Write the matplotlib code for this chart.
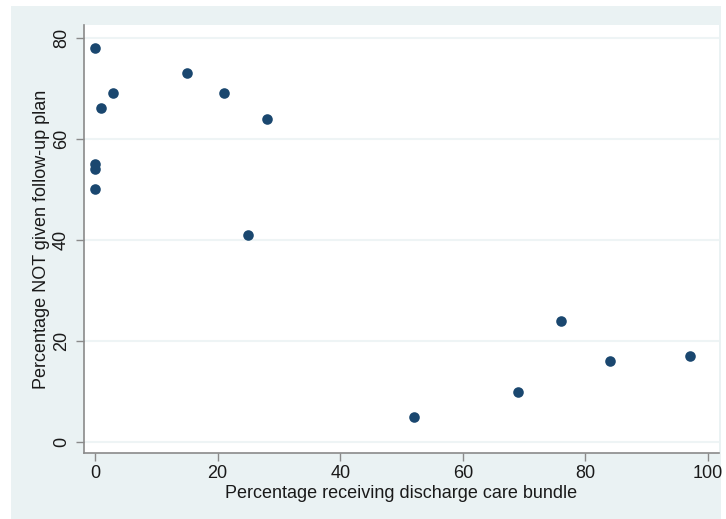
import matplotlib
matplotlib.use("Agg")
import matplotlib.pyplot as plt
from matplotlib.patches import Rectangle

bundle_pct = [0, 1, 3, 0, 0, 0, 15, 21, 28, 25, 52, 69, 76, 84, 97]
not_given_pct = [78, 66, 69, 55, 54, 50, 73, 69, 64, 41, 5, 10, 24, 16, 17]
x_ticks = [0, 20, 40, 60, 80, 100]
y_ticks = [0, 20, 40, 60, 80]

plt.rcParams['font.family'] = ['Liberation Sans', 'DejaVu Sans']

W, H = 726, 519
fig = plt.figure(figsize=(W / 100, H / 100), dpi=100, facecolor='white')
bg = Rectangle((11 / W, 0), (721 - 11) / W, (H - 6) / H, transform=fig.transFigure,
               facecolor='#eaf2f3', edgecolor='none', zorder=-10)
fig.patches.append(bg)

left, right, top, bottom = 84, 719, 25, 453
pw, ph = right - left, bottom - top
ax = fig.add_axes([left / W, 1 - bottom / H, pw / W, ph / H])
ax.set_facecolor('white')

ax.scatter(bundle_pct, not_given_pct, s=58, color='#1a476f', zorder=3, linewidths=0)

ax.set_xlim(-1.8, 101.8)
ax.set_ylim(-2.1, 82.5)
ax.set_xticks(x_ticks)
ax.set_yticks(y_ticks)
ax.grid(axis='y', color='#eef4f5', linewidth=1.5, zorder=0)
ax.set_axisbelow(True)

for s in ['top', 'right']:
    ax.spines[s].set_visible(False)
for s in ['left', 'bottom']:
    ax.spines[s].set_color('#8a8a8a')
    ax.spines[s].set_linewidth(1.2)

ax.tick_params(axis='both', direction='out', length=6, width=1, color='#8a8a8a',
               labelsize=13, labelcolor='#1a1a1a')
ax.tick_params(axis='y', pad=4)
ax.tick_params(axis='x', pad=3)
for lab in ax.get_yticklabels():
    lab.set_rotation(90)
    lab.set_va('center')

ax.set_xlabel('Percentage receiving discharge care bundle', fontsize=13, color='#1a1a1a', va='center')
ax.xaxis.set_label_coords(0.5, -(493 - bottom) / ph)
ax.set_ylabel('Percentage NOT given follow-up plan', fontsize=13, color='#1a1a1a', va='center')
ax.yaxis.set_label_coords(-(left - 42) / pw, 0.5)

fig.savefig('out.png', dpi=100, facecolor='white')
